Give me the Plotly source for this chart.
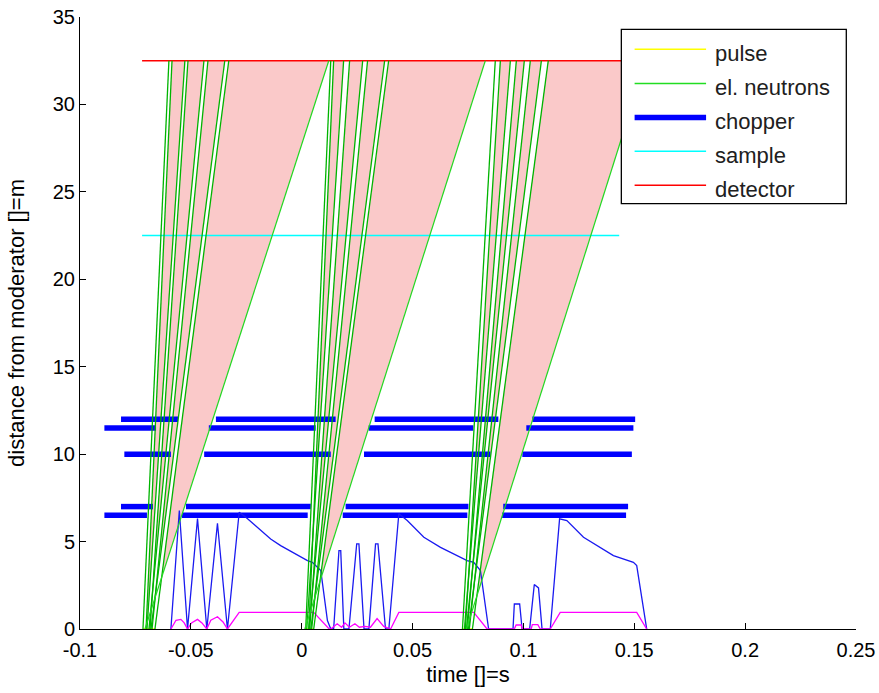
import plotly.graph_objects as go

# ---------------- data ----------------
DETECTOR = 32.5
SAMPLE = 22.5

detector_t = [-0.0720, 0.1500]
sample_t = [-0.0720, 0.1432]

# chopper disks: height and open/closed segments (start, end) in time
chopper_y = [12.0, 11.5, 10.0, 7.0, 6.5]
chopper_start = [
    [-0.0815, -0.0387, 0.0329, 0.1040],
    [-0.0890, -0.0419, 0.0302, 0.1013],
    [-0.0800, -0.0440, 0.0281, 0.0995],
    [-0.0815, -0.0522, 0.0198, 0.0909],
    [-0.0890, -0.0540, 0.0185, 0.0904],
]
chopper_end = [
    [-0.0558, 0.0153, 0.0887, 0.1504],
    [-0.0657, 0.0063, 0.0774, 0.1496],
    [-0.0590, 0.0131, 0.0851, 0.1489],
    [-0.0671, 0.0041, 0.0752, 0.1472],
    [-0.0698, 0.0027, 0.0747, 0.1463],
]

# pulses (start, end at moderator)
pulse_start = [-0.0716, 0.0014, 0.0725]
pulse_end = [-0.0662, 0.0054, 0.0770]

# frame wedges: slowest neutron (diagonal) bottom/top times
slow_bottom = [-0.0707, 0.0014, 0.0743]
slow_top = [0.0122, 0.0828, 0.1553]
fast_bottom = [-0.0716, 0.0018, 0.0725]
fast_top = [-0.0599, 0.0131, 0.0873]

# elastic neutron bands: pairs of trajectories (bottom time, top time)
el_bottom = [
    [-0.0716, -0.0702, -0.0698, -0.0684, -0.0689, -0.0675, -0.0680, -0.0662],
    [0.0018, 0.0032, 0.0023, 0.0036, 0.0032, 0.0045, 0.0041, 0.0054],
    [0.0725, 0.0738, 0.0734, 0.0747, 0.0743, 0.0756, 0.0752, 0.0770],
]
el_top = [
    [-0.0599, -0.0585, -0.0527, -0.0513, -0.0441, -0.0423, -0.0347, -0.0329],
    [0.0131, 0.0144, 0.0189, 0.0216, 0.0275, 0.0297, 0.0374, 0.0392],
    [0.0873, 0.0896, 0.0941, 0.0968, 0.1004, 0.1031, 0.1081, 0.1112],
]

# transmitted intensity (blue)
flux_t = [-0.0590, -0.0552, -0.0515, -0.0470, -0.0428, -0.0380, -0.0335, -0.0282,
          -0.0252, -0.0185, -0.0140, -0.0095, 0.0026, 0.0048, 0.0071, 0.0086, 0.0116, 0.0131,
          0.0144, 0.0168, 0.0176, 0.0190, 0.0213, 0.0248, 0.0258, 0.0281, 0.0303,
          0.0333, 0.0344, 0.0378, 0.0393, 0.0438, 0.0476, 0.0551, 0.0626, 0.0686,
          0.0746, 0.0776, 0.0806, 0.0843,
          0.0953, 0.0959, 0.0983, 0.0994, 0.1028, 0.1049, 0.1068, 0.1084, 0.1121,
          0.1163, 0.1196, 0.1271, 0.1346, 0.1406, 0.1496, 0.1511, 0.1556]
flux_y = [0.0, 6.78, 0.0, 6.32, 0.0, 6.05, 0.0, 6.68,
          6.39, 5.63, 5.15, 4.77, 3.91, 3.81, 3.53, 3.34, 0.48, 0.0,
          0.0, 4.48, 4.48, 0.0, 0.0, 4.87, 4.87, 0.0, 0.0,
          4.87, 4.87, 0.0, 0.0, 6.59, 6.20, 5.25, 4.67, 4.30,
          3.91, 3.81, 3.34, 0.0,
          0.0, 1.43, 1.43, 0.0, 0.0, 2.54, 2.35, 0.0, 0.0,
          6.30, 6.20, 5.25, 4.67, 4.20, 3.81, 3.63, 0.0]

# magenta trace
mag_t = [-0.0590, -0.0567, -0.0545, -0.0530, -0.0515, -0.0497, -0.0470, -0.0450, -0.0428,
         -0.0410, -0.0380, -0.0355, -0.0335, -0.0282, 0.0054, 0.0124,
         0.0131, 0.0160, 0.0180, 0.0195, 0.0215, 0.0240, 0.0260, 0.0285, 0.0310, 0.0340,
         0.0370, 0.0401, 0.0438, 0.0776, 0.0836,
         0.0959, 0.0967, 0.0990, 0.0994, 0.1035, 0.1040, 0.1065, 0.1076, 0.1121, 0.1166,
         0.1511, 0.1556]
mag_y = [0.0, 0.50, 0.55, 0.35, 0.0, 0.35, 0.55, 0.35, 0.0,
         0.50, 0.70, 0.40, 0.0, 0.95, 0.95, 0.0,
         0.0, 0.30, 0.10, 0.35, 0.10, 0.30, 0.10, 0.15, 0.10, 0.60,
         0.15, 0.0, 0.95, 0.95, 0.0,
         0.0, 0.23, 0.23, 0.0, 0.0, 0.25, 0.25, 0.0, 0.0, 0.95,
         0.95, 0.0]

x_ticks = [-0.1, -0.05, 0, 0.05, 0.1, 0.15, 0.2, 0.25]
x_tick_text = ["-0.1", "-0.05", "0", "0.05", "0.1", "0.15", "0.2", "0.25"]
y_ticks = [0, 5, 10, 15, 20, 25, 30, 35]

legend_names = ["pulse", "el. neutrons", "chopper", "sample", "detector"]

# ---------------- styles ----------------
PINK = "#FAC9C9"
GREEN = "#00B400"
GREEN_L = "#22D822"
BLUE = "#0000FF"
FONT = "Liberation Sans, Arial, sans-serif"

fig = go.Figure()

# pink frame wedges
for i in range(3):
    fig.add_trace(go.Scatter(
        x=[fast_bottom[i], fast_top[i], slow_top[i], slow_bottom[i], fast_bottom[i]],
        y=[0, DETECTOR, DETECTOR, 0, 0],
        fill="toself", fillcolor=PINK, mode="lines", line=dict(width=0),
        hoverinfo="skip", showlegend=False))

# white interior of elastic neutron bands
for i in range(3):
    for k in range(0, 8, 2):
        fig.add_trace(go.Scatter(
            x=[el_bottom[i][k], el_top[i][k], el_top[i][k + 1], el_bottom[i][k + 1], el_bottom[i][k]],
            y=[0, DETECTOR, DETECTOR, 0, 0],
            fill="toself", fillcolor="white", mode="lines", line=dict(width=0),
            hoverinfo="skip", showlegend=False))

# sample and detector
fig.add_trace(go.Scatter(x=sample_t, y=[SAMPLE, SAMPLE], mode="lines",
                         line=dict(color="#00FFFF", width=1.5), showlegend=False))
fig.add_trace(go.Scatter(x=detector_t, y=[DETECTOR, DETECTOR], mode="lines",
                         line=dict(color="#FF0000", width=1.5), showlegend=False))

# choppers
for j, yv in enumerate(chopper_y):
    xs, ys = [], []
    for s, e in zip(chopper_start[j], chopper_end[j]):
        xs += [s, e, None]
        ys += [yv, yv, None]
    fig.add_trace(go.Scatter(x=xs, y=ys, mode="lines",
                             line=dict(color=BLUE, width=5.5), showlegend=False))

# pulse
xs, ys = [], []
for s, e in zip(pulse_start, pulse_end):
    xs += [s, e, None]
    ys += [0, 0, None]
fig.add_trace(go.Scatter(x=xs, y=ys, mode="lines", line=dict(color="#FFFF00", width=1.5),
                         showlegend=False))

# flux and magenta traces
fig.add_trace(go.Scatter(x=flux_t, y=flux_y, mode="lines",
                         line=dict(color="#1A1AF0", width=1.3), showlegend=False))
fig.add_trace(go.Scatter(x=mag_t, y=mag_y, mode="lines",
                         line=dict(color="#FF00FF", width=1.3), showlegend=False))

# elastic neutron trajectories
for i in range(3):
    xs, ys = [], []
    for k in range(8):
        xs += [el_bottom[i][k], el_top[i][k], None]
        ys += [0, DETECTOR, None]
    fig.add_trace(go.Scatter(x=xs, y=ys, mode="lines",
                             line=dict(color=GREEN, width=1.3), showlegend=False))
    fig.add_trace(go.Scatter(x=[slow_bottom[i], slow_top[i]], y=[0, DETECTOR], mode="lines",
                             line=dict(color=GREEN_L, width=1.2), showlegend=False))

# ---------------- manual legend (MATLAB style) ----------------
lx0, lx1, ly0, ly1 = 0.6976, 0.9875, 0.6951, 0.9799
shapes = [dict(type="rect", xref="paper", yref="paper", x0=lx0, x1=lx1, y0=ly0, y1=ly1,
               fillcolor="white", line=dict(color="black", width=1.3), layer="above")]
leg_colors = ["#FFFF00", "#22DD22", BLUE, "#00FFFF", "#FF0000"]
leg_widths = [1.5, 1.5, 5.5, 1.5, 1.5]
leg_y = [0.9471, 0.8915, 0.8358, 0.7807, 0.7250]
annotations = []
for name, c, w, yy in zip(legend_names, leg_colors, leg_widths, leg_y):
    shapes.append(dict(type="line", xref="paper", yref="paper", x0=0.7147, x1=0.8068,
                       y0=yy, y1=yy, line=dict(color=c, width=w), layer="above"))
    annotations.append(dict(text=name, xref="paper", yref="paper", x=0.8153, y=yy,
                            xanchor="left", yanchor="middle", yshift=-4, showarrow=False,
                            font=dict(family=FONT, size=22, color="#202020")))

fig.update_layout(
    width=879, height=693,
    margin=dict(l=80, r=23, t=17, b=64, autoexpand=False),
    paper_bgcolor="white", plot_bgcolor="white",
    showlegend=False,
    shapes=shapes, annotations=annotations,
    font=dict(family=FONT, size=20, color="black"),
    xaxis=dict(range=[-0.1, 0.25], tickvals=x_ticks, ticktext=x_tick_text,
               ticks="inside", ticklen=6, tickcolor="black", showline=True,
               linecolor="black", linewidth=1, showgrid=False, zeroline=False,
               automargin=False, tickfont=dict(size=20), ticklabelstandoff=3,
               title=dict(text="time []=s", font=dict(size=22), standoff=6)),
    yaxis=dict(range=[0, 35], tickvals=y_ticks, ticks="inside", ticklen=6,
               tickcolor="black", showline=True, linecolor="black", linewidth=1,
               showgrid=False, zeroline=False, automargin=False, tickfont=dict(size=20),
               title=dict(text="distance from moderator []=m", font=dict(size=22), standoff=22)),
)

fig.write_html("out.html", config={"displayModeBar": False},
               post_script="document.body.style.margin='0px';document.body.style.overflow='hidden';")
